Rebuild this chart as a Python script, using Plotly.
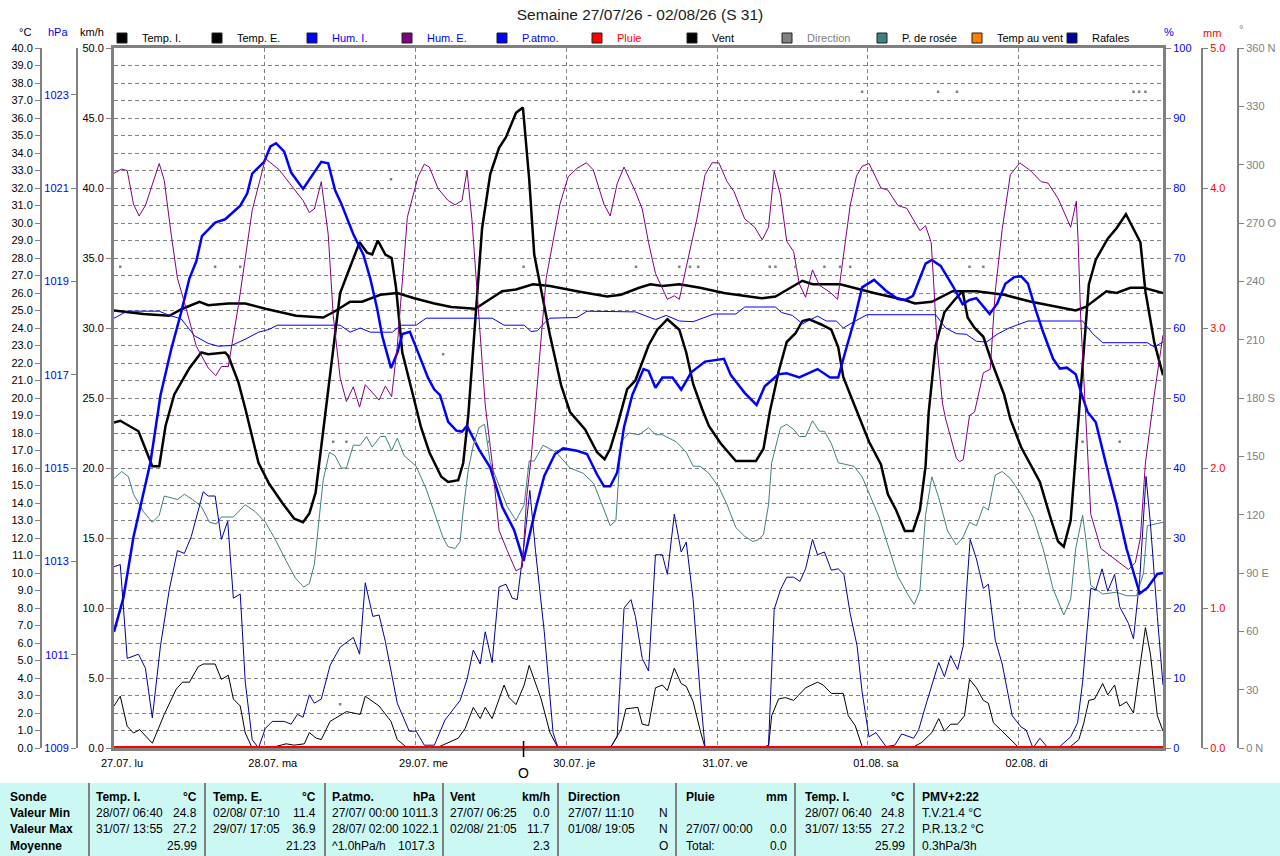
import plotly.graph_objects as go

# Axe du temps : heures depuis le 27/07 00:00
jours_h = [0, 24, 48, 72, 96, 120, 144]
jours_txt = ["27.07. lu", "28.07. ma", "29.07. me", "30.07. je", "31.07. ve", "01.08. sa", "02.08. di"]

dir_ticks = [0, 30, 60, 90, 120, 150, 180, 210, 240, 270, 300, 330, 360]
dir_txt = ["0 N", "30", "60", "90 E", "120", "150", "180 S", "210", "240", "270 O", "300", "330", "360 N"]

# Series (heure, valeur)
temp_i = [(0, 25.0), (4.7, 24.8), (8.8, 24.7), (10.9, 25.1), (13.6, 25.5), (15.0, 25.3), (18.2, 25.4),
          (20.9, 25.4), (24.1, 25.1), (29.0, 24.7), (33.3, 24.6), (34.9, 24.9), (37.6, 25.5), (39.5, 25.5),
          (42.4, 25.9), (45.1, 26.0), (47.8, 25.7), (51.0, 25.4), (53.7, 25.2), (57.5, 25.1), (61.8, 26.1),
          (64.0, 26.2), (66.7, 26.5), (69.4, 26.4), (73.7, 26.1), (78.5, 25.8), (80.7, 25.9), (83.6, 26.3),
          (85.4, 26.5), (87.3, 26.4), (90.0, 26.5), (93.3, 26.3), (97.1, 26.0), (103.1, 25.7), (105.3, 25.8),
          (109.6, 26.7), (111.2, 26.5), (115.6, 26.5), (121.0, 26.0), (125.9, 25.6), (127.5, 25.4),
          (130.2, 25.5), (133.5, 26.1), (137.3, 26.1), (141.7, 25.9), (146.0, 25.5), (150.3, 25.2),
          (153.1, 25.0), (154.7, 25.2), (158.0, 26.1), (159.6, 26.0), (161.8, 26.3), (163.9, 26.3), (167.0, 26.0)]

temp_e = [(0, 18.6), (1.0, 18.7), (3.9, 18.1), (6.1, 16.1), (7.2, 16.1), (8.2, 18.4), (9.6, 20.2), (12.0, 21.7),
          (13.9, 22.6), (15.0, 22.5), (17.7, 22.6), (18.2, 22.4), (19.8, 20.9), (20.9, 19.4), (23.0, 16.3),
          (24.7, 15.1), (26.8, 14.0), (28.7, 13.1), (30.1, 12.9), (31.1, 13.4), (32.1, 14.6), (33.0, 17.3),
          (33.8, 19.4), (36.0, 26.0), (37.6, 27.5), (39.1, 28.9), (40.3, 28.3), (41.1, 28.2), (42.0, 29.0),
          (43.2, 28.2), (44.2, 28.0), (44.9, 26.3), (45.9, 22.6), (47.8, 19.9), (48.9, 18.3), (50.2, 16.9),
          (52.1, 15.5), (53.2, 15.2), (54.8, 15.3), (55.6, 16.3), (56.4, 19.0), (58.6, 29.7), (59.9, 32.8),
          (61.3, 34.3), (62.4, 34.9), (64.0, 36.3), (65.1, 36.6), (66.1, 32.5), (66.9, 28.2), (69.4, 23.6),
          (71.2, 20.7), (72.6, 19.2), (75.0, 18.2), (76.9, 16.9), (78.1, 16.5), (79.0, 17.1), (80.1, 18.4),
          (81.7, 20.5), (83.0, 21.0), (85.1, 23.0), (86.5, 23.9), (88.1, 24.5), (90.0, 23.9), (91.1, 22.6),
          (92.2, 20.8), (93.6, 19.4), (94.7, 18.4), (96.6, 17.4), (99.0, 16.4), (102.2, 16.4), (103.4, 17.1),
          (104.4, 19.2), (105.8, 21.5), (107.1, 23.2), (108.5, 23.7), (109.6, 24.4), (110.7, 24.5),
          (112.6, 24.2), (114.2, 23.9), (115.3, 22.9), (116.1, 21.2), (117.2, 20.2), (120.2, 17.5),
          (122.1, 16.2), (123.2, 14.5), (124.5, 13.6), (125.9, 12.4), (127.2, 12.4), (128.3, 13.6),
          (129.2, 16.1), (129.7, 19.2), (130.8, 23.0), (132.2, 24.9), (133.8, 25.6), (135.1, 26.1),
          (135.9, 24.6), (137.0, 24.0), (138.4, 23.5), (139.8, 22.0), (141.7, 20.2), (142.7, 18.8),
          (144.4, 17.2), (147.4, 15.2), (149.3, 12.9), (150.3, 11.8), (151.2, 11.5), (152.3, 13.0),
          (152.8, 15.3), (153.6, 19.0), (155.2, 26.5), (156.3, 27.9), (158.2, 29.1), (159.6, 29.7),
          (161.1, 30.5), (163.4, 28.9), (164.2, 26.1), (165.6, 23.2), (167.0, 21.3)]

hum_i = [(0, 61.4), (2.1, 62.4), (7.2, 62.4), (8.8, 61.8), (10.7, 61.3), (12.8, 58.9), (15.0, 57.8), (16.6, 57.4),
         (18.7, 57.5), (20.9, 58.4), (23.0, 59.4), (24.7, 59.8), (26.0, 60.4), (36.0, 60.4), (37.6, 59.4),
         (39.2, 60.0), (40.8, 59.4), (44.3, 59.4), (45.7, 60.4), (48.1, 60.4), (49.7, 61.4), (60.2, 61.4),
         (62.1, 60.4), (65.3, 60.4), (66.4, 59.5), (67.4, 59.6), (68.5, 60.7), (69.4, 61.4), (73.7, 61.5),
         (75.3, 62.4), (83.0, 62.3), (84.6, 61.8), (86.2, 61.2), (87.9, 61.8), (90.0, 61.0), (92.2, 60.9),
         (94.7, 61.7), (95.5, 62.0), (99.0, 62.0), (100.4, 63.0), (105.3, 63.0), (106.3, 62.2), (108.0, 61.8),
         (109.6, 60.6), (112.0, 61.7), (113.4, 61.0), (115.0, 61.0), (116.1, 60.0), (117.8, 60.9),
         (119.9, 61.9), (130.8, 61.9), (132.4, 60.0), (134.1, 59.2), (135.7, 59.1), (137.3, 58.1),
         (138.9, 58.0), (140.6, 59.1), (142.5, 60.0), (145.5, 61.0), (154.2, 61.0), (155.8, 59.2),
         (157.4, 57.9), (164.5, 57.9), (165.6, 57.3), (167.0, 58.0)]

hum_e = [(0, 82.1), (1.2, 82.7), (2.1, 82.5), (3.1, 77.7), (4.0, 76.0), (5.0, 77.5), (7.2, 83.5), (8.0, 81.1),
         (9.1, 73.4), (10.1, 67.1), (11.2, 63.7), (13.1, 57.4), (15.0, 54.3), (16.2, 53.2), (17.1, 54.5),
         (18.2, 54.5), (19.8, 63.2), (22.0, 76.8), (24.1, 84.2), (26.3, 82.6), (30.1, 78.2), (31.1, 76.5),
         (31.9, 77.0), (33.0, 80.9), (34.1, 73.4), (34.9, 61.8), (36.0, 52.9), (37.0, 49.5), (38.1, 51.6),
         (39.1, 48.7), (40.0, 51.9), (42.2, 49.7), (43.2, 51.7), (44.2, 50.2), (45.1, 57.4), (46.7, 75.8),
         (48.4, 81.6), (49.4, 83.4), (50.2, 83.0), (51.6, 79.9), (53.2, 78.2), (54.3, 77.6), (55.4, 78.2),
         (56.2, 82.5), (57.0, 75.3), (58.1, 61.8), (59.1, 49.0), (60.2, 40.8), (61.3, 31.1), (62.6, 28.2),
         (64.0, 25.3), (65.0, 25.8), (65.7, 35.9), (66.4, 41.3), (67.2, 49.5), (68.8, 67.1), (71.0, 77.7),
         (72.3, 81.6), (73.7, 82.8), (75.2, 83.6), (76.3, 82.6), (78.0, 77.7), (79.0, 76.0), (80.1, 80.6),
         (81.2, 83.0), (83.0, 79.5), (84.1, 77.0), (85.1, 72.2), (86.2, 67.8), (88.1, 64.1), (89.2, 64.6),
         (90.0, 64.1), (91.1, 68.7), (92.8, 75.6), (94.1, 81.9), (95.2, 83.6), (96.3, 83.6), (97.6, 80.9),
         (98.7, 79.5), (100.4, 75.6), (102.0, 74.4), (103.2, 72.6), (104.2, 74.4), (105.1, 82.4),
         (106.1, 79.0), (107.1, 72.4), (108.2, 70.9), (109.1, 66.3), (110.1, 64.4), (111.2, 68.3),
         (112.3, 66.1), (114.0, 65.1), (115.2, 64.1), (116.1, 70.2), (117.2, 77.5), (118.2, 81.7),
         (119.1, 83.1), (120.2, 83.5), (122.1, 80.0), (123.2, 79.7), (124.8, 77.5), (126.2, 77.1),
         (127.5, 75.1), (128.3, 73.9), (129.2, 74.6), (130.1, 72.2), (130.5, 66.3), (131.1, 56.6),
         (131.9, 49.2), (132.4, 47.0), (134.1, 41.4), (134.6, 40.9), (135.2, 41.2), (136.2, 47.5),
         (137.0, 48.0), (138.4, 53.6), (139.5, 54.1), (140.3, 65.3), (141.4, 74.1), (142.7, 81.9),
         (144.2, 83.6), (146.0, 82.4), (147.6, 80.9), (148.7, 80.7), (150.3, 78.5), (152.3, 74.4),
         (153.2, 78.1), (153.5, 72.2), (153.9, 61.4), (154.6, 48.5), (155.5, 33.4), (157.1, 28.5),
         (159.6, 26.8), (161.5, 25.5), (162.6, 26.5), (163.4, 30.0), (164.2, 40.7), (165.6, 50.4), (167.0, 59.0)]

p_atmo = [(0, 1011.49), (1.5, 1012.22), (3.1, 1013.52), (5.8, 1015.12), (7.4, 1016.56), (9.1, 1017.54),
          (10.7, 1018.34), (12.0, 1019.06), (13.1, 1019.43), (14.0, 1019.97), (16.1, 1020.26), (17.7, 1020.33),
          (20.1, 1020.62), (21.2, 1020.88), (22.0, 1021.31), (23.9, 1021.56), (24.9, 1021.89), (25.8, 1021.96),
          (27.1, 1021.78), (28.2, 1021.33), (30.1, 1020.98), (31.4, 1021.24), (33.0, 1021.56), (34.1, 1021.53),
          (35.2, 1020.95), (36.2, 1020.66), (37.3, 1020.26), (38.1, 1020.01), (39.7, 1019.57), (40.8, 1019.06),
          (41.9, 1018.41), (42.7, 1017.83), (44.1, 1017.14), (45.1, 1017.47), (45.9, 1017.87), (47.1, 1017.92),
          (48.1, 1017.58), (50.0, 1016.93), (51.0, 1016.68), (51.9, 1016.56), (53.2, 1015.99), (54.5, 1015.80),
          (55.4, 1015.78), (56.2, 1015.90), (58.1, 1015.40), (59.9, 1015.01), (61.8, 1014.17), (63.7, 1013.67),
          (65.2, 1013.01), (66.1, 1013.52), (67.2, 1014.17), (68.5, 1014.83), (70.2, 1015.30), (71.5, 1015.42),
          (73.7, 1015.37), (75.3, 1015.30), (76.9, 1014.86), (78.0, 1014.61), (79.0, 1014.61), (80.1, 1014.90),
          (81.2, 1015.88), (82.5, 1016.56), (84.3, 1017.12), (85.1, 1017.08), (86.2, 1016.72), (87.3, 1016.94),
          (88.9, 1016.94), (90.3, 1016.68), (91.9, 1017.05), (94.1, 1017.28), (97.1, 1017.34), (98.2, 1016.99),
          (100.4, 1016.61), (102.3, 1016.35), (103.6, 1016.75), (105.8, 1017.01), (107.1, 1017.03),
          (109.1, 1016.94), (110.7, 1017.03), (112.0, 1017.12), (114.0, 1016.94), (115.3, 1016.94),
          (116.4, 1017.48), (117.8, 1018.14), (119.1, 1018.87), (121.0, 1019.03), (122.9, 1018.80),
          (124.8, 1018.62), (125.9, 1018.60), (127.2, 1018.69), (129.2, 1019.38), (130.2, 1019.46),
          (131.6, 1019.33), (133.5, 1018.91), (135.1, 1018.51), (136.2, 1018.60), (137.3, 1018.64),
          (138.4, 1018.45), (139.4, 1018.30), (140.6, 1018.52), (141.9, 1018.95), (143.3, 1019.09),
          (144.4, 1019.11), (145.5, 1018.95), (146.8, 1018.36), (147.9, 1017.92), (149.5, 1017.34),
          (150.6, 1017.13), (151.7, 1017.15), (153.1, 1017.01), (153.9, 1016.64), (155.0, 1016.20),
          (156.3, 1015.98), (157.9, 1015.10), (159.6, 1014.22), (161.2, 1013.27), (163.3, 1012.31),
          (164.5, 1012.43), (166.1, 1012.73), (167.0, 1012.75)]

rosee = [(0, 15.4), (1.2, 15.8), (2.3, 15.5), (3.1, 14.5), (4.7, 13.5), (6.1, 12.9), (7.2, 13.3), (8.0, 14.4),
         (10.1, 14.2), (11.2, 14.5), (12.5, 14.2), (13.9, 13.8), (15.2, 12.9), (16.3, 12.8), (17.1, 13.2),
         (19.0, 13.2), (20.9, 13.9), (22.5, 13.5), (24.1, 12.9), (25.7, 11.9), (27.4, 10.7), (28.9, 9.7),
         (30.2, 9.2), (31.1, 9.4), (31.9, 10.5), (32.5, 12.4), (33.3, 15.3), (34.3, 16.9), (35.2, 16.7),
         (36.2, 16.0), (37.0, 16.0), (38.1, 17.3), (39.2, 17.3), (40.2, 17.8), (41.1, 17.2), (42.4, 17.8),
         (43.2, 17.8), (44.2, 17.0), (45.1, 17.7), (46.2, 16.7), (48.1, 16.1), (49.7, 14.8), (51.0, 13.4),
         (52.4, 12.0), (53.2, 11.5), (54.3, 11.4), (55.1, 11.8), (55.6, 13.6), (56.4, 15.9), (57.2, 17.3),
         (58.1, 18.3), (59.0, 18.5), (59.9, 16.3), (61.3, 15.0), (62.6, 13.8), (64.0, 13.0), (65.3, 13.9),
         (66.1, 16.4), (66.9, 16.4), (68.3, 17.3), (70.4, 16.9), (72.6, 16.0), (74.7, 15.7), (76.4, 15.1),
         (78.0, 13.6), (79.0, 12.7), (79.9, 13.0), (80.7, 17.5), (82.0, 18.0), (83.6, 17.9), (85.1, 18.3),
         (86.2, 17.9), (87.3, 17.9), (89.5, 17.5), (91.1, 16.9), (92.2, 16.1), (93.3, 16.1), (94.7, 15.7),
         (96.3, 14.9), (97.6, 13.9), (99.0, 12.6), (100.4, 12.1), (101.7, 11.8), (102.6, 11.9), (103.4, 12.2),
         (104.2, 13.9), (104.7, 16.3), (106.1, 18.3), (107.1, 18.5), (108.2, 18.2), (109.1, 17.8),
         (110.1, 17.8), (111.2, 18.7), (112.3, 18.1), (113.1, 18.1), (114.2, 17.4), (115.3, 16.3),
         (116.4, 16.2), (117.8, 16.1), (119.1, 15.5), (120.5, 14.3), (121.8, 13.2), (123.2, 11.6),
         (124.8, 9.8), (126.5, 8.7), (127.4, 8.2), (128.3, 9.0), (129.2, 13.3), (130.2, 15.5), (131.3, 14.3),
         (132.7, 12.4), (134.1, 11.6), (135.1, 12.0), (136.2, 12.9), (137.3, 12.7), (138.4, 13.8),
         (139.2, 13.6), (140.3, 15.6), (141.4, 15.8), (142.7, 15.4), (144.4, 14.5), (146.3, 13.2),
         (147.9, 11.4), (149.5, 9.1), (151.2, 7.6), (152.3, 8.5), (153.1, 11.4), (154.2, 13.3), (154.7, 12.0),
         (155.5, 9.3), (157.4, 8.8), (159.6, 8.9), (161.2, 8.7), (162.8, 8.7), (163.9, 10.0), (164.5, 12.7),
         (167.0, 12.9)]

vent = [(0, 3.0), (1.0, 3.7), (2.1, 1.55), (3.1, 1.07), (4.1, 1.31), (6.1, 0.34), (8.0, 2.4), (9.9, 4.2),
        (10.9, 4.7), (12.0, 4.7), (13.4, 5.8), (14.2, 6.0), (16.1, 6.0), (17.1, 4.9), (18.2, 5.2), (19.0, 3.5),
        (20.1, 3.0), (20.9, 1.07), (22.0, 0), (23.3, 0), (24.1, 0.1), (25.7, 0.1), (27.4, 0.3), (28.7, 0.2),
        (30.3, 0.3), (31.1, 1.1), (32.2, 0.7), (33.0, 0.6), (34.4, 1.9), (37.0, 2.6), (39.2, 2.4), (40.0, 3.7),
        (42.2, 3.0), (44.1, 1.9), (45.1, 0.6), (46.7, 0), (51.3, 0), (52.9, 0.3), (54.8, 0.7), (55.9, 1.4),
        (57.2, 2.9), (58.3, 2.1), (59.1, 2.9), (60.2, 2.1), (62.1, 4.5), (62.9, 3.6), (64.0, 3.1), (65.3, 4.5),
        (66.1, 5.9), (68.0, 3.5), (69.4, 1.1), (70.7, 0), (79.0, 0), (80.7, 1.3), (81.5, 2.8), (83.4, 2.9),
        (84.1, 1.7), (85.1, 1.6), (86.2, 4.3), (87.3, 4.5), (88.1, 4.1), (89.2, 5.7), (90.3, 4.6), (91.1, 4.4),
        (92.2, 3.3), (93.3, 1.3), (94.1, 0), (103.1, 0), (104.2, 0.1), (104.7, 2.3), (105.8, 3.5), (106.9, 3.6),
        (108.2, 3.4), (110.1, 4.3), (112.0, 4.7), (112.9, 4.5), (114.2, 3.9), (116.1, 3.9), (116.9, 2.3),
        (118.0, 1.6), (119.1, 0.1), (120.2, 0), (127.0, 0), (128.6, 0.4), (130.2, 1.1), (131.3, 2.1),
        (132.2, 1.2), (133.2, 1.7), (134.3, 1.7), (135.4, 2.3), (136.2, 4.9), (137.3, 4.3), (138.4, 3.4),
        (139.2, 3.2), (140.0, 1.8), (141.4, 1.2), (142.7, 0.6), (144.1, 0), (152.0, 0), (153.6, 0.6),
        (154.4, 1.8), (155.2, 3.4), (156.1, 3.5), (157.4, 4.6), (158.2, 3.8), (159.3, 4.5), (160.1, 3.0),
        (161.2, 3.3), (162.3, 2.5), (163.3, 5.7), (164.2, 8.6), (165.0, 6.7), (166.1, 2.3), (167.0, 1.2)]

rafales = [(0, 12.95), (1.0, 13.1), (2.1, 6.4), (3.9, 6.7), (5.0, 5.7), (6.1, 2.15), (7.4, 7.3), (8.8, 11.3),
           (10.1, 14.1), (11.2, 13.9), (12.3, 15.1), (14.2, 18.3), (15.0, 18.0), (16.1, 18.0), (17.1, 14.9),
           (18.1, 16.2), (19.0, 10.7), (20.1, 11.0), (20.9, 4.7), (22.0, 0.6), (23.0, 0), (24.1, 1.4),
           (25.2, 1.9), (27.1, 1.9), (28.2, 1.7), (29.2, 2.4), (30.1, 2.2), (31.1, 3.8), (31.9, 3.2), (33.0, 3.5),
           (34.4, 5.9), (36.0, 7.2), (38.1, 7.9), (39.1, 6.7), (40.0, 11.8), (41.2, 9.4), (42.2, 9.5),
           (43.2, 7.6), (45.1, 3.2), (47.0, 1.2), (48.1, 1.2), (49.4, 0.2), (51.0, 0.2), (52.7, 2.0), (55.1, 3.4),
           (56.2, 4.9), (57.2, 7.0), (58.3, 6.0), (59.1, 8.3), (60.2, 6.1), (61.3, 11.5), (62.4, 11.7),
           (63.4, 10.7), (64.2, 10.6), (65.3, 14.6), (66.2, 18.4), (67.1, 14.1), (68.5, 8.3), (69.9, 1.1),
           (70.7, 0), (79.0, 0), (80.1, 0.8), (81.2, 10.0), (82.3, 10.6), (83.0, 9.4), (84.1, 6.4), (85.1, 5.5),
           (86.2, 13.8), (87.3, 13.8), (88.1, 12.4), (89.2, 16.7), (90.3, 14.0), (91.1, 14.7), (92.2, 10.6),
           (93.3, 4.0), (94.1, 0), (103.1, 0), (104.2, 0.2), (105.1, 9.9), (106.1, 11.3), (107.1, 12.2),
           (108.2, 12.2), (109.2, 11.9), (110.1, 12.8), (111.2, 14.9), (112.0, 13.8), (113.1, 14.0),
           (114.2, 12.7), (115.3, 12.8), (116.2, 12.4), (117.2, 9.6), (118.3, 7.3), (119.1, 4.0), (120.2, 0.8),
           (121.3, 1.1), (122.9, 0.1), (124.3, 0.2), (125.4, 1.0), (127.3, 0.7), (128.1, 1.3), (129.4, 3.3),
           (131.3, 6.1), (132.2, 5.1), (133.2, 6.6), (134.3, 5.6), (135.2, 7.3), (135.7, 11.1), (136.3, 14.9),
           (137.3, 13.5), (138.4, 11.4), (139.2, 11.7), (140.3, 7.7), (141.4, 6.0), (143.0, 2.3), (144.4, 1.5),
           (145.2, 1.3), (146.3, 0), (147.4, 0.7), (148.7, 0), (150.3, 0), (152.3, 0.8), (153.4, 1.8),
           (154.2, 4.7), (155.0, 9.1), (155.5, 11.4), (156.3, 11.3), (157.3, 12.8), (158.2, 11.2),
           (159.3, 12.4), (160.1, 10.1), (161.5, 8.9), (162.3, 7.8), (163.3, 12.1), (164.3, 19.4),
           (165.0, 16.0), (166.1, 9.4), (167.0, 4.5)]

direction = [(1.0, 247.5), (16.1, 247.5), (20.1, 247.5), (34.9, 157.5), (36.0, 22.5), (37.0, 157.5),
             (44.1, 292.5), (52.4, 202.5), (57.5, 157.5), (59.7, 157.5), (65.2, 247.5), (83.1, 247.5),
             (90.0, 247.5), (91.7, 247.5), (93.0, 247.5), (104.4, 247.5), (105.3, 247.5), (108.5, 247.5),
             (113.1, 247.5), (115.6, 247.5), (117.2, 247.5), (119.1, 337.5), (131.2, 337.5), (134.2, 337.5),
             (136.2, 247.5), (138.4, 247.5), (154.2, 157.5), (160.1, 157.5), (162.3, 337.5), (163.2, 337.5),
             (164.2, 337.5)]

pluie_h = [0, 167]
pluie_mm = [0.0, 0.0]

# direction dominante marquee sous l'axe
dir_dom_h = 65.2
dir_dom_txt = "O"

# tableau du bas
lignes = ["Sonde", "Valeur Min", "Valeur Max", "Moyenne"]
colonnes = [
    ("Temp. I.", "°C", [("28/07/ 06:40", "24.8"), ("31/07/ 13:55", "27.2"), ("", "25.99")]),
    ("Temp. E.", "°C", [("02/08/ 07:10", "11.4"), ("29/07/ 17:05", "36.9"), ("", "21.23")]),
    ("P.atmo.", "hPa", [("27/07/ 00:00 1011.3", ""), ("28/07/ 02:00 1022.1", ""), ("^1.0hPa/h", "1017.3")]),
    ("Vent", "km/h", [("27/07/ 06:25", "0.0"), ("02/08/ 21:05", "11.7"), ("", "2.3")]),
    ("Direction", "", [("27/07/ 11:10", "N"), ("01/08/ 19:05", "N"), ("", "O")]),
    ("Pluie", "mm", [("", ""), ("27/07/ 00:00", "0.0"), ("Total:", "0.0")]),
    ("Temp. I.", "°C", [("28/07/ 06:40", "24.8"), ("31/07/ 13:55", "27.2"), ("", "25.99")]),
]
pmv = ["PMV+2:22", "T.V.21.4 °C", "P.R.13.2 °C", "0.3hPa/3h"]

FONT = "Liberation Sans, Arial, sans-serif"
GRIS = "#808080"
W, H = 1280, 856
X0, X1, Y0, Y1 = 114, 1163, 48, 748


def px(x):
    return x / W


def py(y):
    return (Y1 - y) / (Y1 - Y0)


def hs(s):
    return [p[0] for p in s]


def vs(s):
    return [p[1] for p in s]


fig = go.Figure()

fig.add_trace(go.Scatter(x=hs(temp_i), y=vs(temp_i), mode="lines", line=dict(color="black", width=2.5),
                         yaxis="y", showlegend=False))
fig.add_trace(go.Scatter(x=hs(temp_e), y=vs(temp_e), mode="lines", line=dict(color="black", width=2.5),
                         yaxis="y", showlegend=False))
fig.add_trace(go.Scatter(x=hs(rosee), y=vs(rosee), mode="lines", line=dict(color="#408080", width=1),
                         yaxis="y", showlegend=False))
fig.add_trace(go.Scatter(x=hs(p_atmo), y=vs(p_atmo), mode="lines", line=dict(color="#0000ff", width=2.5),
                         yaxis="y2", showlegend=False))
fig.add_trace(go.Scatter(x=hs(vent), y=vs(vent), mode="lines", line=dict(color="black", width=1),
                         yaxis="y3", showlegend=False))
fig.add_trace(go.Scatter(x=hs(rafales), y=vs(rafales), mode="lines", line=dict(color="#0000a0", width=1),
                         yaxis="y3", showlegend=False))
fig.add_trace(go.Scatter(x=hs(hum_i), y=vs(hum_i), mode="lines", line=dict(color="#0000ff", width=1),
                         yaxis="y4", showlegend=False))
fig.add_trace(go.Scatter(x=hs(hum_e), y=vs(hum_e), mode="lines", line=dict(color="#800080", width=1),
                         yaxis="y4", showlegend=False))
fig.add_trace(go.Scatter(x=pluie_h, y=pluie_mm, mode="lines", line=dict(color="#ff0000", width=4),
                         yaxis="y5", showlegend=False))
fig.add_trace(go.Scatter(x=hs(direction), y=vs(direction), mode="markers",
                         marker=dict(color=GRIS, size=2.5, symbol="square"), yaxis="y6", showlegend=False))

# legende (carres de couleur)
legende = [("Temp. I.", "black", "black"), ("Temp. E.", "black", "black"), ("Hum. I.", "#0000ff", "#0000ff"),
           ("Hum. E.", "#800080", "#0000ff"), ("P.atmo.", "#0000ff", "#0000ff"), ("Pluie", "#ff0000", "#ff0000"),
           ("Vent", "black", "black"), ("Direction", GRIS, GRIS), ("P. de rosée", "#408080", "black"),
           ("Temp au vent", "#ff8000", "black"), ("Rafales", "#0000a0", "black")]
for nom, coul, coul_txt in legende:
    fig.add_trace(go.Scatter(x=[None], y=[None], mode="markers", yaxis="y",
                             name=f"<span style='color:{coul_txt}'>{nom}</span>",
                             marker=dict(symbol="square", size=10, color=coul, line=dict(color="#202020", width=1))))

axe = dict(showline=True, linecolor=GRIS, ticks="outside", ticklen=5, tickcolor=GRIS, zeroline=False,
           showgrid=False, fixedrange=True)
tirets = "4px,3px"

fig.update_layout(
    width=W, height=H,
    margin=dict(l=0, r=0, t=Y0, b=H - Y1, pad=0, autoexpand=False),
    paper_bgcolor="white", plot_bgcolor="white",
    font=dict(family=FONT, size=11, color="black"),
    title=dict(text="Semaine 27/07/26 - 02/08/26 (S 31)", x=0.5, xanchor="center", y=1 - 15 / H,
               yanchor="middle", font=dict(size=15.5, color="#202020")),
    xaxis=dict(domain=[px(X0), px(X1)], range=[0, 167], anchor="y", tickvals=jours_h, ticktext=jours_txt,
               showgrid=True, gridcolor=GRIS, griddash=tirets, gridwidth=1, showline=True, linecolor=GRIS,
               linewidth=3, mirror=True, ticks="", zeroline=False, layer="below traces",
               ticklabelshift=8, ticklabelstandoff=3, fixedrange=True),
    yaxis=dict(axe, range=[0, 40], dtick=1, tickformat=".1f", anchor="free", position=px(41), side="left",
               showgrid=True, gridcolor=GRIS, griddash=tirets, gridwidth=1, linewidth=2),
    yaxis2=dict(axe, range=[1009, 1024], tick0=1009, dtick=2, anchor="free", position=px(77), side="left",
                overlaying="y", linewidth=2, tickfont=dict(color="#0000ff")),
    yaxis3=dict(axe, range=[0, 50], dtick=5, tickformat=".1f", anchor="x", side="left", overlaying="y",
                linewidth=3),
    yaxis4=dict(axe, range=[0, 100], dtick=10, anchor="x", side="right", overlaying="y", linewidth=3,
                tickfont=dict(color="#0000ff")),
    yaxis5=dict(axe, range=[0, 5], dtick=1, tickformat=".1f", anchor="free", position=px(1202), side="right",
                overlaying="y", linewidth=2, tickfont=dict(color="#ff0000")),
    yaxis6=dict(axe, range=[0, 360], tickvals=dir_ticks, ticktext=dir_txt, anchor="free", position=px(1238),
                side="right", overlaying="y", linewidth=2, tickfont=dict(color=GRIS)),
    legend=dict(orientation="h", x=px(102), xanchor="left", y=py(38), yanchor="middle",
                entrywidth=50, entrywidthmode="pixels", bgcolor="rgba(0,0,0,0)", borderwidth=0,
                font=dict(size=11), tracegroupgap=0),
    showlegend=True,
)

# unites en haut des axes
unites = [("°C", 25, 32, "black"), ("hPa", 58, 32, "#0000ff"), ("km/h", 92, 32, "black"),
          ("%", 1169, 32, "#0000ff"), ("mm", 1212, 33, "#ff0000"), ("°", 1241, 29, GRIS)]
for t, x, y, c in unites:
    fig.add_annotation(text=t, x=px(x), y=py(y), xref="paper", yref="paper", showarrow=False,
                       xanchor="center", yanchor="middle", font=dict(size=11, color=c))

# direction dominante
fig.add_shape(type="line", xref="x", yref="paper", x0=dir_dom_h, x1=dir_dom_h, y0=py(741), y1=py(757),
              line=dict(color="black", width=1.5))
fig.add_annotation(text=dir_dom_txt, x=dir_dom_h, y=py(773), xref="x", yref="paper", showarrow=False,
                   xanchor="center", yanchor="middle", font=dict(size=14, color="black"))

# tableau du bas
fig.add_shape(type="rect", xref="paper", yref="paper", x0=0, x1=1, y0=py(783), y1=py(856),
              fillcolor="#ccf8f4", line=dict(width=0), layer="below")
seps = [89, 205, 325, 443, 558, 676, 795, 914]
for s in seps:
    fig.add_shape(type="line", xref="paper", yref="paper", x0=px(s), x1=px(s), y0=py(783), y1=py(856),
                  line=dict(color=GRIS, width=2))

rows_y = [797, 813, 829, 846]
col_g = [94, 211, 330, 448, 566, 684, 803]
col_d = [199, 318, 437, 552, 670, 789, 907]


def texte(t, x, y, ancre, gras=False):
    if not t:
        return
    fig.add_annotation(text=f"<b>{t}</b>" if gras else t, x=px(x), y=py(y), xref="paper", yref="paper",
                       showarrow=False, xanchor=ancre, yanchor="middle", font=dict(size=12, color="black"))


for i, l in enumerate(lignes):
    texte(l, 8, rows_y[i], "left", True)
for j, (titre, unite, vals) in enumerate(colonnes):
    texte(titre, col_g[j], rows_y[0], "left", True)
    texte(unite, col_d[j], rows_y[0], "right", True)
    for k, (g, d) in enumerate(vals):
        texte(g, col_g[j], rows_y[k + 1], "left")
        texte(d, col_d[j], rows_y[k + 1], "right")
for k, t in enumerate(pmv):
    texte(t, 920, rows_y[k], "left", k == 0)

fig.write_html("out.html", config={"displayModeBar": False},
               post_script="document.body.style.margin='0';")
